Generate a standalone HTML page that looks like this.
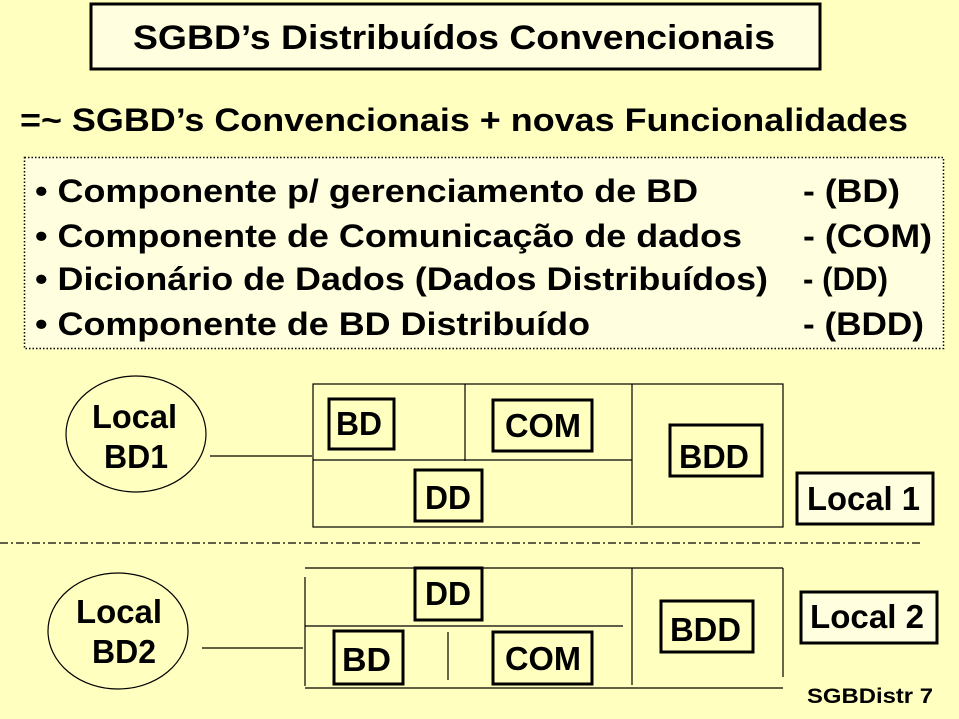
<!DOCTYPE html>
<html><head><meta charset="utf-8"><style>
html,body{margin:0;padding:0;background:#FFFFC0;}
svg{display:block;}
text{font-family:"Liberation Sans",sans-serif;font-weight:bold;fill:#000;}
</style></head><body>
<svg width="959" height="719" viewBox="0 0 959 719" xmlns="http://www.w3.org/2000/svg">
<rect x="0" y="0" width="959" height="719" fill="#FFFFC0"/>
<rect x="91" y="4" width="729" height="65" fill="#FFFFDF" stroke="#000" stroke-width="3"/>
<text x="133" y="49" font-size="34" textLength="642" lengthAdjust="spacingAndGlyphs">SGBD’s Distribuídos Convencionais</text>
<text x="20" y="131" font-size="32" textLength="888" lengthAdjust="spacingAndGlyphs">=~ SGBD’s Convencionais + novas Funcionalidades</text>
<rect x="24.5" y="157.5" width="919" height="191" fill="#FFFFDF" stroke="#000" stroke-width="1.5" stroke-dasharray="1.5,2"/>
<g font-size="32">
<text x="35" y="202" textLength="663" lengthAdjust="spacingAndGlyphs">• Componente p/ gerenciamento de BD</text>
<text x="803" y="202" textLength="97" lengthAdjust="spacingAndGlyphs">- (BD)</text>
<text x="35" y="247" textLength="707" lengthAdjust="spacingAndGlyphs">• Componente de Comunicação de dados</text>
<text x="803" y="247" textLength="129" lengthAdjust="spacingAndGlyphs">- (COM)</text>
<text x="35" y="290" textLength="733" lengthAdjust="spacingAndGlyphs">• Dicionário de Dados (Dados Distribuídos)</text>
<text x="803" y="290" textLength="85" lengthAdjust="spacingAndGlyphs">- (DD)</text>
<text x="35" y="335" textLength="555" lengthAdjust="spacingAndGlyphs">• Componente de BD Distribuído</text>
<text x="803" y="335" textLength="121" lengthAdjust="spacingAndGlyphs">- (BDD)</text>
</g>
<g stroke="#000" fill="none" stroke-width="1.2">
<ellipse cx="136" cy="434" rx="70" ry="58"/>
<line x1="210" y1="456" x2="312" y2="456"/>
<rect x="313" y="384" width="470" height="143"/>
<line x1="465" y1="384" x2="465" y2="461"/>
<line x1="313" y1="460" x2="632" y2="460"/>
<line x1="632" y1="384" x2="632" y2="525"/>
<line x1="0" y1="543" x2="922" y2="543" stroke-dasharray="8,3,2,3"/>
<ellipse cx="118" cy="631" rx="70" ry="58"/>
<line x1="202" y1="648" x2="303" y2="648"/>
<line x1="305" y1="568" x2="783" y2="568"/>
<line x1="305" y1="577" x2="305" y2="686"/>
<line x1="305" y1="626" x2="623" y2="626"/>
<line x1="632" y1="568" x2="632" y2="685"/>
<line x1="783" y1="568" x2="783" y2="677"/>
<line x1="305" y1="688" x2="783" y2="688"/>
<line x1="448" y1="632" x2="448" y2="680"/>
</g>
<g stroke="#000" stroke-width="3" fill="#FFFFC0">
<rect x="329" y="399" width="65" height="50"/>
<rect x="493" y="400" width="99" height="51"/>
<rect x="670" y="425" width="92" height="51"/>
<rect x="415" y="470" width="67" height="51"/>
<rect x="797" y="473" width="136" height="51" fill="#FFFFDF"/>
<rect x="415" y="568" width="67" height="52"/>
<rect x="334" y="631" width="69" height="53"/>
<rect x="493" y="632" width="99" height="52"/>
<rect x="661" y="601" width="92" height="51"/>
<rect x="801" y="592" width="136" height="51" fill="#FFFFDF"/>
</g>
<g font-size="33" lengthAdjust="spacingAndGlyphs">
<text x="92" y="428" textLength="85" lengthAdjust="spacingAndGlyphs">Local</text>
<text x="104" y="468" textLength="64" lengthAdjust="spacingAndGlyphs">BD1</text>
<text x="76" y="623" textLength="86" lengthAdjust="spacingAndGlyphs">Local</text>
<text x="92" y="663" textLength="64" lengthAdjust="spacingAndGlyphs">BD2</text>
<text x="336" y="435" textLength="46" lengthAdjust="spacingAndGlyphs">BD</text>
<text x="505" y="437" textLength="76" lengthAdjust="spacingAndGlyphs">COM</text>
<text x="679" y="468" textLength="70" lengthAdjust="spacingAndGlyphs">BDD</text>
<text x="425" y="509" textLength="46" lengthAdjust="spacingAndGlyphs">DD</text>
<text x="807" y="510" textLength="113" lengthAdjust="spacingAndGlyphs">Local 1</text>
<text x="425" y="605" textLength="46" lengthAdjust="spacingAndGlyphs">DD</text>
<text x="342" y="671" textLength="49" lengthAdjust="spacingAndGlyphs">BD</text>
<text x="505" y="670" textLength="76" lengthAdjust="spacingAndGlyphs">COM</text>
<text x="670" y="641" textLength="71" lengthAdjust="spacingAndGlyphs">BDD</text>
<text x="810" y="628" textLength="114" lengthAdjust="spacingAndGlyphs">Local 2</text>
</g>
<text x="807" y="703" font-size="21" textLength="126" lengthAdjust="spacingAndGlyphs">SGBDistr 7</text>
</svg>
</body></html>
